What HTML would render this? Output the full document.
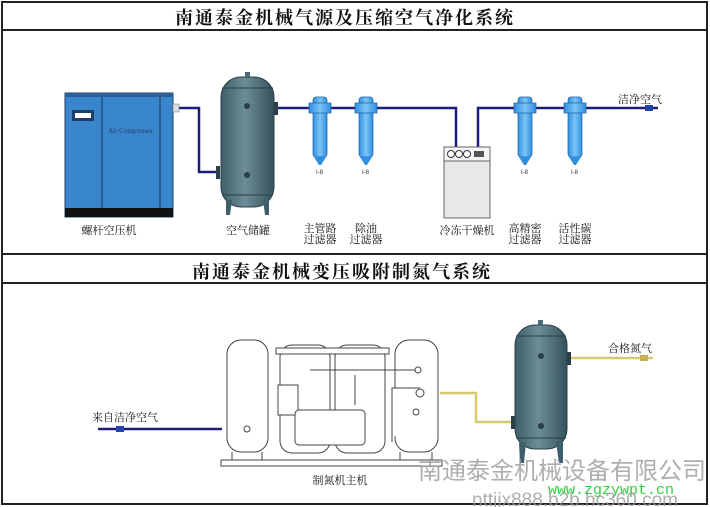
<!DOCTYPE html>
<html><head><meta charset="utf-8"><style>
html,body{margin:0;padding:0;background:#fff;width:710px;height:507px;overflow:hidden}
svg{display:block}
.t{font-family:"Liberation Serif","Noto Serif CJK SC",serif;font-size:11px;fill:#111}
.h{font-family:"Liberation Serif","Noto Serif CJK SC",serif;font-size:18px;font-weight:bold;fill:#111;letter-spacing:2px}
</style></head><body>
<svg width="710" height="507" viewBox="0 0 710 507" xmlns="http://www.w3.org/2000/svg">
<defs>
<linearGradient id="tk" x1="0" x2="1"><stop offset="0" stop-color="#3d5e6a"/><stop offset="0.45" stop-color="#6c8c97"/><stop offset="1" stop-color="#34525e"/></linearGradient>
<linearGradient id="fl" x1="0" x2="1"><stop offset="0" stop-color="#2f8fe0"/><stop offset="0.5" stop-color="#7cc4f5"/><stop offset="1" stop-color="#2f8fe0"/></linearGradient>
</defs>
<rect x="2" y="2" width="705" height="502" fill="none" stroke="#222" stroke-width="2"/>
<line x1="2" y1="30" x2="707" y2="30" stroke="#222" stroke-width="2"/>
<line x1="2" y1="254" x2="707" y2="254" stroke="#222" stroke-width="2"/>
<line x1="2" y1="283" x2="707" y2="283" stroke="#222" stroke-width="2"/>
<text class="h" x="345" y="24" text-anchor="middle">南通泰金机械气源及压缩空气净化系统</text>
<text class="h" x="342" y="278" text-anchor="middle">南通泰金机械变压吸附制氮气系统</text>

<!-- pipes section 1 -->
<g fill="none" stroke="#1c1c7a" stroke-width="2.5">
<polyline points="176,108 199,108 199,172 218,172"/>
<polyline points="277,108 456,108 456,147"/>
<polyline points="478,147 478,108 658,108"/>
</g>
<!-- compressor -->
<rect x="65" y="93" width="108" height="124" fill="#3a86cc" stroke="#1f3f6a"/>
<rect x="65" y="93" width="108" height="4" fill="#2a5f98"/>
<rect x="65" y="208" width="108" height="9" fill="#111"/>
<line x1="102" y1="97" x2="102" y2="208" stroke="#1f3f6a" stroke-width="1.2"/>
<line x1="160" y1="97" x2="160" y2="208" stroke="#1f3f6a" stroke-width="1.2"/>
<rect x="72" y="110" width="22" height="11" fill="#1f3f6a"/><rect x="75" y="113" width="16" height="5" fill="#fff"/>
<text x="108" y="133" font-family="Liberation Serif,serif" font-size="7" fill="#1f3f6a">Air Compressor</text>
<rect x="173" y="104" width="6" height="8" fill="#ddd" stroke="#777" stroke-width="0.5"/>
<!-- tank 1 -->
<rect x="221" y="77" width="53" height="130" rx="20" fill="url(#tk)" stroke="#2a3f48"/>
<line x1="222" y1="88" x2="273" y2="88" stroke="#2a3f48"/><line x1="222" y1="195" x2="273" y2="195" stroke="#2a3f48"/>
<rect x="245" y="72" width="5" height="5" fill="#4a6b78"/>
<circle cx="247" cy="106" r="3" fill="#2a3f48"/><circle cx="247" cy="175" r="3" fill="#2a3f48"/>
<polygon points="226,200 232,200 230,215 226,215" fill="#3d5e6a"/><polygon points="263,200 269,200 269,215 265,215" fill="#3d5e6a"/>
<rect x="274" y="102" width="4" height="13" fill="#2a3f48"/><rect x="216" y="166" width="4" height="13" fill="#2a3f48"/>
<!-- filters -->
<g id="f">
<rect x="313" y="97" width="14" height="60" rx="3" fill="url(#fl)" stroke="#1d5fa8" stroke-width="0.7"/>
<rect x="309" y="103" width="22" height="10" fill="url(#fl)" stroke="#1d5fa8" stroke-width="0.7"/>
<polygon points="314,157 326,157 321,165 319,165" fill="#2f8fe0"/>
<text x="316" y="174" font-family="Liberation Sans,sans-serif" font-size="6" fill="#333">I-8</text>
</g>
<use href="#f" x="46"/><use href="#f" x="205"/><use href="#f" x="255"/>
<!-- dryer -->
<rect x="444" y="147" width="46" height="71" fill="#e8e8e8" stroke="#666"/>
<rect x="444" y="147" width="46" height="14" fill="#f4f4f4" stroke="#666"/>
<circle cx="451" cy="154" r="3.5" fill="#fff" stroke="#333"/><circle cx="459" cy="154" r="3.5" fill="#fff" stroke="#333"/><circle cx="467" cy="154" r="3.5" fill="#fff" stroke="#333"/>
<rect x="474" y="151" width="10" height="6" fill="#555"/>
<rect x="645" y="105" width="8" height="6" fill="#2244aa"/>
<!-- labels 1 -->
<g class="t" text-anchor="middle">
<text x="109" y="234">螺杆空压机</text>
<text x="248" y="234">空气储罐</text>
<text x="320" y="232">主管路</text><text x="320" y="243">过滤器</text>
<text x="366" y="232">除油</text><text x="366" y="243">过滤器</text>
<text x="467" y="234">冷冻干燥机</text>
<text x="525" y="232">高精密</text><text x="525" y="243">过滤器</text>
<text x="575" y="232">活性碳</text><text x="575" y="243">过滤器</text>
<text x="640" y="103">洁净空气</text>
<text x="125" y="421">来自洁净空气</text>
<text x="630" y="352">合格氮气</text>
<text x="340" y="484">制氮机主机</text>
</g>

<!-- section 2 -->
<polyline points="98,429 222,429" fill="none" stroke="#1c1c7a" stroke-width="2.5"/>
<rect x="116" y="426" width="8" height="6" fill="#2244aa"/>
<polyline points="440,393 476,393 476,422 513,422" fill="none" stroke="#d8c870" stroke-width="2.5"/>
<polyline points="570,358 653,358" fill="none" stroke="#d8c870" stroke-width="2.5"/>
<rect x="640" y="355" width="8" height="6" fill="#c8b050"/>
<g fill="#fff" stroke="#444" stroke-width="1">
<rect x="221" y="460" width="221" height="6"/>
<rect x="227" y="340" width="41" height="112" rx="14"/>
<rect x="280" y="345" width="50" height="108" rx="12"/>
<rect x="335" y="345" width="50" height="108" rx="12"/>
<rect x="276" y="348" width="113" height="6"/>
<rect x="395" y="340" width="43" height="112" rx="14"/>
<rect x="278" y="385" width="20" height="30"/>
<rect x="295" y="410" width="70" height="35" rx="4"/>
<polyline points="392,442 392,388 420,388"/>
<polyline points="310,370 420,370"/>
<circle cx="247" cy="429" r="3"/><circle cx="418" cy="370" r="3"/>
<circle cx="420" cy="393" r="4"/><circle cx="416" cy="412" r="3"/>
<line x1="232" y1="452" x2="232" y2="460"/><line x1="262" y1="452" x2="262" y2="460"/>
<line x1="400" y1="452" x2="400" y2="460"/><line x1="432" y1="452" x2="432" y2="460"/>
<line x1="355" y1="375" x2="355" y2="405"/>
</g>
<!-- N2 tank -->
<rect x="515" y="325" width="52" height="124" rx="20" fill="url(#tk)" stroke="#2a3f48"/>
<line x1="516" y1="336" x2="566" y2="336" stroke="#2a3f48"/><line x1="516" y1="438" x2="566" y2="438" stroke="#2a3f48"/>
<rect x="538" y="320" width="5" height="5" fill="#4a6b78"/>
<circle cx="541" cy="356" r="3" fill="#2a3f48"/><circle cx="541" cy="426" r="3" fill="#2a3f48"/>
<polygon points="519,442 526,442 524,463 520,463" fill="#3d5e6a"/><polygon points="556,442 563,442 563,463 559,463" fill="#3d5e6a"/>
<rect x="567" y="352" width="4" height="13" fill="#2a3f48"/><rect x="511" y="416" width="4" height="13" fill="#2a3f48"/>
<!-- watermark -->
<text x="418" y="479" font-family="Liberation Sans,'Noto Sans CJK SC',sans-serif" font-size="24" fill="#9a9a9a" opacity="0.8">南通泰金机械设备有限公司</text>
<text x="548" y="494" font-family="Liberation Mono,monospace" font-size="15" fill="#30d040">www.zgzywpt.cn</text>
<text x="472" y="506" font-family="Liberation Sans,sans-serif" font-size="19" fill="#9a9a9a" opacity="0.8">nttjjx888.b2b.hc360.com</text>
</svg>
</body></html>
